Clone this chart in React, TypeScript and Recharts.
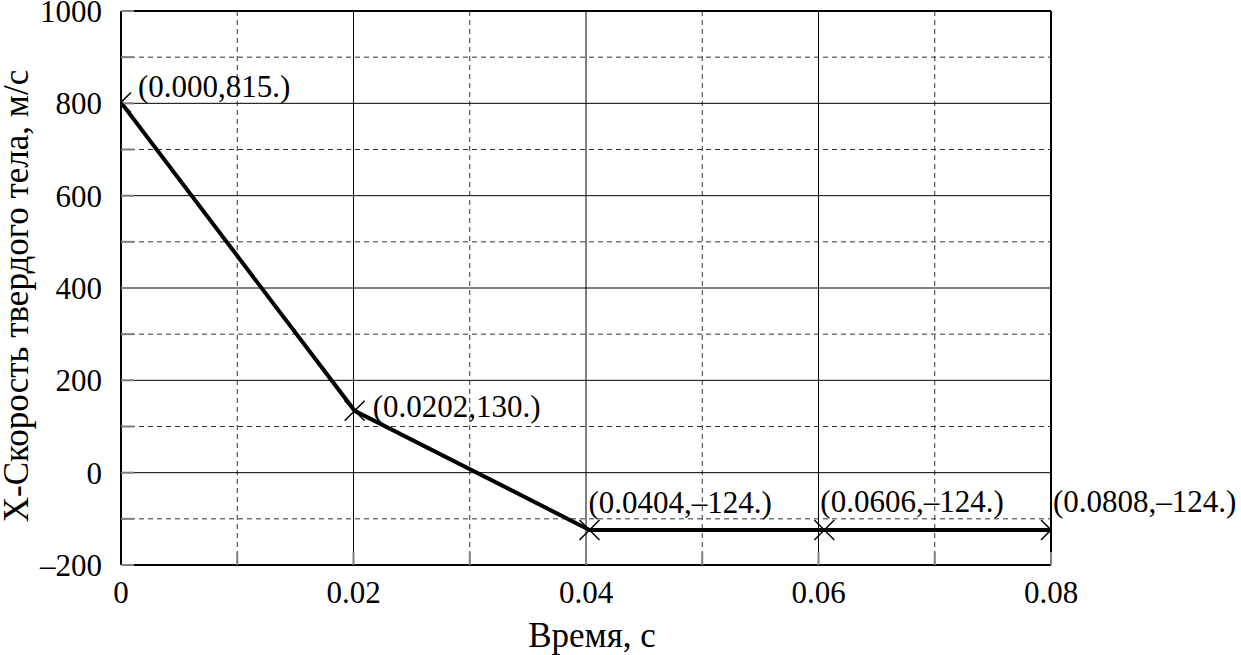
import { LineChart, Line, XAxis, YAxis, ReferenceLine, LabelList } from "recharts";

const FONT = '"Liberation Serif", "DejaVu Serif", serif';

// points as they sit on the plot, and the text printed beside each
const timeValues = [0, 0.0201, 0.0403, 0.0605, 0.08];
const velocityValues = [802, 134, -124, -124, -124];
const pointLabels = [
  "(0.000,815.)",
  "(0.0202,130.)",
  "(0.0404,–124.)",
  "(0.0606,–124.)",
  "(0.0808,–124.)",
];

const xTicks = [0, 0.01, 0.02, 0.03, 0.04, 0.05, 0.06, 0.07, 0.08];
const xTickLabels = ["0", "", "0.02", "", "0.04", "", "0.06", "", "0.08"];
const yTicks = [-200, -100, 0, 100, 200, 300, 400, 500, 600, 700, 800, 900, 1000];
const yTickLabels = ["–200", "", "0", "", "200", "", "400", "", "600", "", "800", "", "1000"];

const xMajorGrid = [0.02, 0.04, 0.06];
const xMinorGrid = [0.01, 0.03, 0.05, 0.07];
const yMajorGrid = [0, 200, 400, 600, 800];
const yMinorGrid = [-100, 100, 300, 500, 700, 900];

// where each point label sits relative to its marker
const labelOffsets = [
  { dx: 17, dy: -5 },
  { dx: 18, dy: 6 },
  { dx: -1, dy: -17 },
  { dx: -4, dy: -18 },
  { dx: 2, dy: -18 },
];

const data = timeValues.map((t, i) => ({
  t,
  v: velocityValues[i],
  label: pointLabels[i],
}));

const Cross = (props: any) => {
  const { cx, cy, index } = props;
  const r = 10;
  return (
    <g key={"dot-" + index}>
      <line x1={cx - r} y1={cy - r} x2={cx + r} y2={cy + r} stroke="#000" strokeWidth={1.5} />
      <line x1={cx - r} y1={cy + r} x2={cx + r} y2={cy - r} stroke="#000" strokeWidth={1.5} />
    </g>
  );
};

const PointLabel = (props: any) => {
  const { x, y, index, value } = props;
  const off = labelOffsets[index] || { dx: 0, dy: 0 };
  return (
    <text x={x + off.dx} y={y + off.dy} fontSize={31} fontFamily={FONT} fill="#000">
      {value}
    </text>
  );
};

export default function App() {
  return (
    <div style={{ position: "absolute", left: 0, top: 0, background: "#fff" }}>
      <LineChart
        width={1241}
        height={655}
        data={data}
        margin={{ top: 11, right: 190, left: 0, bottom: 0 }}
        style={{ fontFamily: FONT }}
      >
        <XAxis
          dataKey="t"
          type="number"
          domain={[0, 0.08]}
          allowDataOverflow
          ticks={xTicks}
          interval={0}
          tickFormatter={(_v: any, i: number) => xTickLabels[i]}
          height={90}
          tickSize={-13}
          tickMargin={29}
          tickLine={{ stroke: "#808080", strokeWidth: 2 }}
          axisLine={{ stroke: "#000", strokeWidth: 2 }}
          tick={{ fill: "#000", fontSize: 31, fontFamily: FONT }}
          label={(p: any) => {
            const vb = p.viewBox;
            return (
              <text x={vb.x + vb.width / 2 + 6} y={647} textAnchor="middle" fontSize={35} fontFamily={FONT} fill="#000">
                Время, с
              </text>
            );
          }}
        />
        <YAxis
          type="number"
          domain={[-200, 1000]}
          allowDataOverflow
          ticks={yTicks}
          interval={0}
          tickFormatter={(_v: any, i: number) => yTickLabels[i]}
          width={121}
          tickSize={-13}
          tickMargin={32}
          tickLine={{ stroke: "#808080", strokeWidth: 2 }}
          axisLine={{ stroke: "#000", strokeWidth: 2 }}
          tick={{ fill: "#000", fontSize: 31, fontFamily: FONT }}
          label={(p: any) => {
            const vb = p.viewBox;
            const cy = vb.y + vb.height / 2 + 8;
            return (
              <text
                x={28}
                y={cy}
                transform={`rotate(-90, 28, ${cy})`}
                textAnchor="middle"
                fontSize={35}
                fontFamily={FONT}
                fill="#000"
              >
                X-Скорость твердого тела, м/с
              </text>
            );
          }}
        />
        {xMinorGrid.map((x) => (
          <ReferenceLine key={"xm" + x} x={x} stroke="#333" strokeWidth={1} strokeDasharray="5 4" />
        ))}
        {yMinorGrid.map((y) => (
          <ReferenceLine key={"ym" + y} y={y} stroke="#333" strokeWidth={1} strokeDasharray="5 4" />
        ))}
        {xMajorGrid.map((x) => (
          <ReferenceLine key={"xM" + x} x={x} stroke="#000" strokeWidth={1} />
        ))}
        {yMajorGrid.map((y) => (
          <ReferenceLine key={"yM" + y} y={y} stroke="#000" strokeWidth={1} />
        ))}
        <ReferenceLine x={0.08} stroke="#000" strokeWidth={2} />
        <ReferenceLine y={1000} stroke="#000" strokeWidth={2} />
        <Line
          dataKey="v"
          stroke="#000"
          strokeWidth={4}
          dot={Cross}
          activeDot={false}
          isAnimationActive={false}
        >
          <LabelList dataKey="label" content={PointLabel} />
        </Line>
      </LineChart>
    </div>
  );
}
